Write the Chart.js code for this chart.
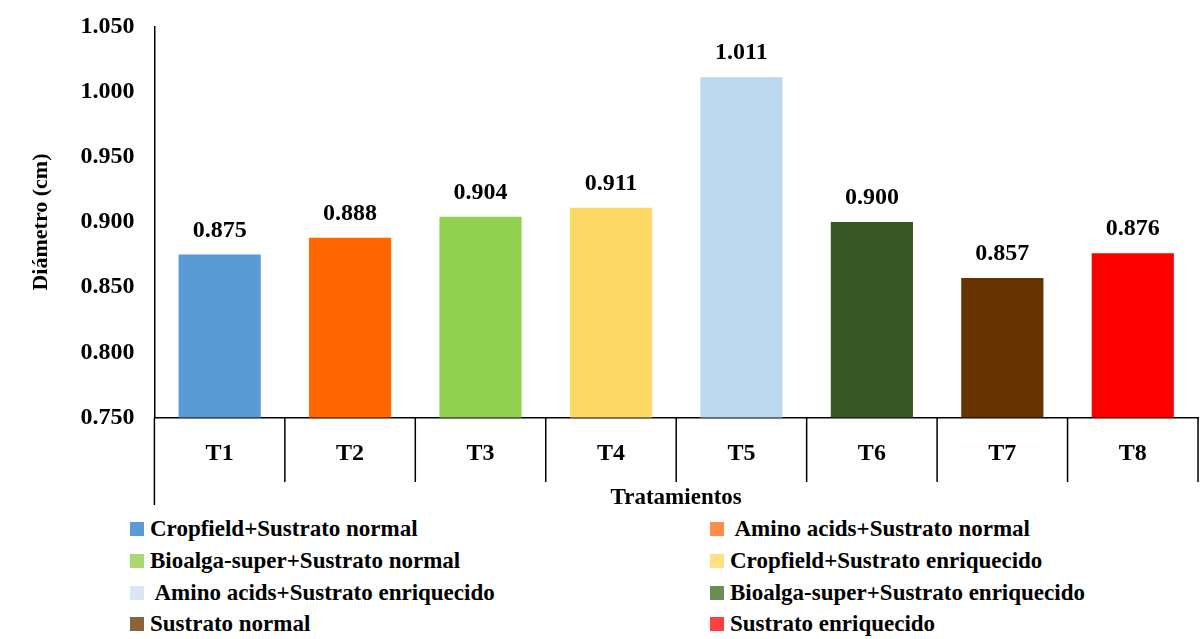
<!DOCTYPE html>
<html><head><meta charset="utf-8">
<script src="https://cdn.jsdelivr.net/npm/chart.js@4"></script>
<style>
body{margin:0;background:#fff;}
#wrap{position:relative;width:1203px;height:639px;}
#c{position:absolute;left:0;top:0;}
.lg{position:absolute;font:bold 23px 'Liberation Serif','DejaVu Serif','Times New Roman',serif;color:#000;white-space:nowrap;line-height:22px;}
.lg span{display:inline-block;width:14px;height:14px;margin-right:6px;vertical-align:0px;}
</style></head><body>
<div id="wrap"><canvas id="c" width="1203" height="512"></canvas></div>
<script>
const categories=["T1","T2","T3","T4","T5","T6","T7","T8"];
const values=[0.875,0.888,0.904,0.911,1.011,0.900,0.857,0.876];
const barColors=["#5b9bd5","#ff6600","#92d050","#ffd966","#bdd7ee","#375623","#663300","#ff0000"];
const legendLabels=["Cropfield+Sustrato normal"," Amino acids+Sustrato normal","Bioalga-super+Sustrato normal","Cropfield+Sustrato enriquecido"," Amino acids+Sustrato enriquecido","Bioalga-super+Sustrato enriquecido","Sustrato normal","Sustrato enriquecido"];
const legendColors=["#5b9bd5","#ff8c4a","#a9d86e","#ffe082","#dae6f5","#6a8c55","#8b6339","#ff4040"];
const F="'Liberation Serif','DejaVu Serif','Times New Roman',serif";
const extras={id:"extras",afterDraw(ch){
  const ctx=ch.ctx,a=ch.chartArea;
  ctx.save();ctx.strokeStyle="#000";ctx.lineWidth=1.5;
  ctx.beginPath();ctx.moveTo(a.left,a.bottom);ctx.lineTo(a.left,505);
  const w=(a.right-a.left)/categories.length;
  for(let i=1;i<=categories.length;i++){const x=a.left+w*i;ctx.moveTo(x,a.bottom);ctx.lineTo(x,482);}
  ctx.stroke();
  ctx.fillStyle="#000";ctx.font="bold 24px "+F;ctx.textAlign="center";ctx.textBaseline="bottom";
  const m=ch.getDatasetMeta(0);
  m.data.forEach((b,i)=>ctx.fillText(values[i].toFixed(3),b.x,b.y-12));
  ctx.restore();
}};
new Chart(document.getElementById("c"),{type:"bar",
 data:{labels:categories,datasets:[{data:values,backgroundColor:barColors,barPercentage:0.63,categoryPercentage:1}]},
 options:{responsive:false,animation:false,
  layout:{padding:{top:4,right:5,left:24,bottom:0}},
  plugins:{legend:{display:false},tooltip:{enabled:false}},
  scales:{
   y:{min:0.75,max:1.05,ticks:{stepSize:0.05,color:"#000",font:{family:F,size:24,weight:"bold"},callback:v=>v.toFixed(3),padding:12},
      grid:{display:false},border:{color:"#000",width:1.5},
      title:{display:true,text:"Diámetro (cm)",color:"#000",font:{family:F,size:22,weight:"bold"},padding:{bottom:14}}},
   x:{ticks:{color:"#000",font:{family:F,size:24,weight:"bold"},padding:14},grid:{display:false},border:{color:"#000",width:1.5},
      title:{display:true,text:"Tratamientos",color:"#000",font:{family:F,size:23,weight:"bold"},padding:{top:2,bottom:0}}}
  }},plugins:[extras]});
const wrap=document.getElementById("wrap");
const cols=[130,710],rows=[518,550,582,613];
legendLabels.forEach((t,i)=>{const d=document.createElement("div");d.className="lg";
 d.style.left=cols[i%2]+"px";d.style.top=rows[Math.floor(i/2)]+"px";
 d.innerHTML='<span style="background:'+legendColors[i]+'"></span>'+t;wrap.appendChild(d);});
</script></body></html>
